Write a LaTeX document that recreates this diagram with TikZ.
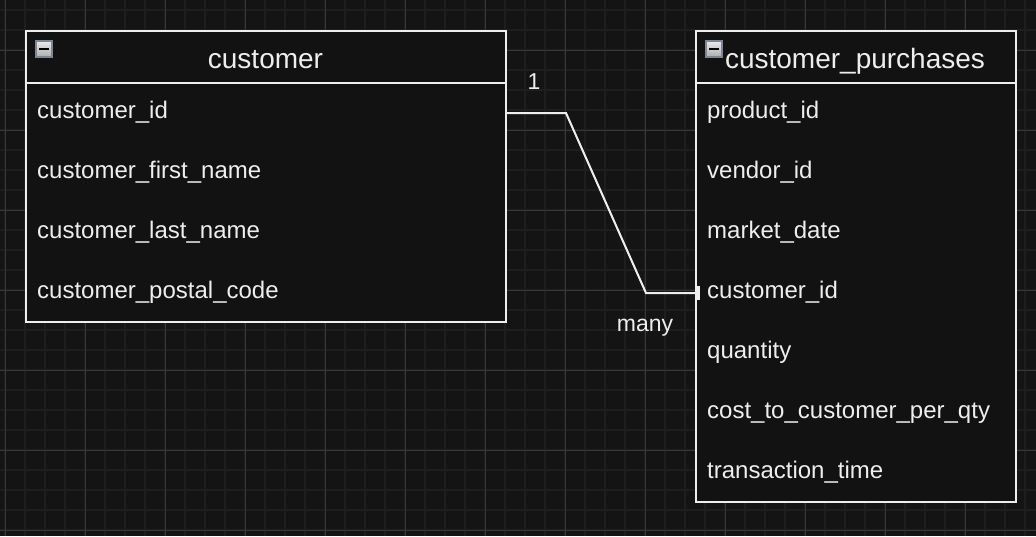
\documentclass[tikz,border=0pt]{standalone}
\usepackage{fontspec}
\setmainfont{Liberation Sans}
\definecolor{bgc}{HTML}{141414}
\definecolor{boxfill}{HTML}{121212}
\definecolor{minorgrid}{HTML}{1E1E1E}
\definecolor{majorgrid}{HTML}{383838}
\definecolor{ink}{HTML}{EEEEEE}
\definecolor{iconborder}{HTML}{7E8696}
\tikzset{
  tablebox/.style={draw=ink, line width=2pt, fill=boxfill, anchor=north west, inner sep=0pt, outer sep=0pt},
  rowtext/.style={anchor=base west, inner sep=0pt, text=ink, font=\fontsize{24}{28}\selectfont},
  titletext/.style={anchor=base, inner sep=0pt, text=ink, font=\fontsize{28}{32}\selectfont},
  edgelabel/.style={anchor=base, inner sep=0pt, text=ink, font=\fontsize{23}{28}\selectfont},
  conn/.style={draw=ink, line width=2pt},
  iconbox/.style={draw=iconborder, line width=2pt, top color=white!92!black, bottom color=white!68!black, minimum width=16pt, minimum height=16pt, anchor=north west, inner sep=0pt, outer sep=0pt}
}
\begin{document}
\begin{tikzpicture}[x=1pt,y=-1pt]
\useasboundingbox (0,0) rectangle (1036,536);
\fill[bgc] (0,0) rectangle (1036,536);
% minor grid
\foreach \gx in {5,25,...,1036} \draw[minorgrid, line width=2pt] (\gx,0) -- (\gx,536);
\foreach \gy in {10,30,...,536} \draw[minorgrid, line width=2pt] (0,\gy) -- (1036,\gy);
% major grid
\foreach \gx in {5,85,...,1036} \draw[majorgrid, line width=1pt] (\gx,0) -- (\gx,536);
\foreach \gy in {50,130,...,536} \draw[majorgrid, line width=1pt] (0,\gy) -- (1036,\gy);

% customer table
\node[tablebox, minimum width=480pt, minimum height=291pt] (cust) at (26,31) {};
\draw[draw=ink, line width=2pt] ([yshift=-52pt]cust.north west) -- ([yshift=-52pt]cust.north east);
\node[iconbox] (custicon) at (36,41) {};
\fill[black] ([xshift=3pt,yshift=-7pt]custicon.north west) rectangle ([xshift=-3pt,yshift=-9pt]custicon.north east);
\node[titletext] (custtitle) at (265.5,68.5) {customer};
\node[rowtext] (c1) at (37,118) {customer\_id};
\node[rowtext] (c2) at (37,178) {customer\_first\_name};
\node[rowtext] (c3) at (37,238) {customer\_last\_name};
\node[rowtext] (c4) at (37,298) {customer\_postal\_code};

% customer_purchases table
\node[tablebox, minimum width=320pt, minimum height=471pt] (purch) at (696,31) {};
\draw[draw=ink, line width=2pt] ([yshift=-52pt]purch.north west) -- ([yshift=-52pt]purch.north east);
\node[iconbox] (purchicon) at (706,41) {};
\fill[black] ([xshift=3pt,yshift=-7pt]purchicon.north west) rectangle ([xshift=-3pt,yshift=-9pt]purchicon.north east);
\node[titletext] (purchtitle) at (855,68.5) {customer\_purchases};
\node[rowtext] (p1) at (707,118) {product\_id};
\node[rowtext] (p2) at (707,178) {vendor\_id};
\node[rowtext] (p3) at (707,238) {market\_date};
\node[rowtext] (p4) at (707,298) {customer\_id};
\node[rowtext] (p5) at (707,358) {quantity};
\node[rowtext] (p6) at (707,418) {cost\_to\_customer\_per\_qty};
\node[rowtext] (p7) at (707,478) {transaction\_time};

% relationship connector
\coordinate (bend1) at (566,113);
\coordinate (bend2) at (646,293);
\coordinate (startpt) at (cust.east |- bend1);
\coordinate (endpt) at (purch.west |- bend2);
\draw[conn] (startpt) -- (bend1) -- (bend2) -- (endpt);
\draw[draw=ink, line width=3pt] ([xshift=2pt,yshift=-7pt]endpt) -- ([xshift=2pt,yshift=7pt]endpt);
\node[edgelabel] (lblone) at (534,89.5) {1};
\node[edgelabel] (lblmany) at (645,331) {many};
\end{tikzpicture}
\end{document}
